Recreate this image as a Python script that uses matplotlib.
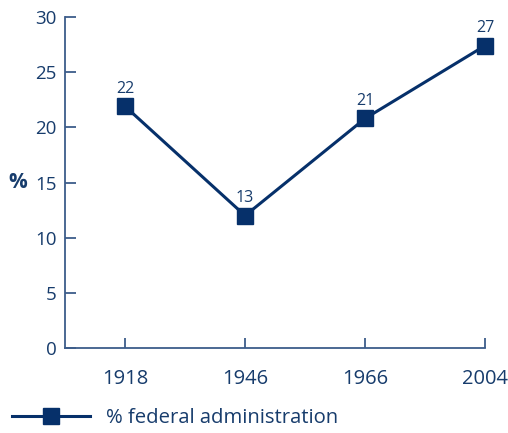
import matplotlib.pyplot as plt

# ---- data ----
years = ['1918', '1946', '1966', '2004']
share = [21.9, 12.0, 20.8, 27.4]
share_labels = ['22', '13', '21', '27']
series_name = '% federal administration'

NAVY = '#06306a'
AXIS = '#3d5d8a'
TEXT = '#173c6c'

plt.rcParams['font.family'] = ['Open Sans', 'DejaVu Sans']

fig = plt.figure(figsize=(5.08, 4.33), dpi=100)
ax = fig.add_axes([0.128, 0.196, 0.827, 0.765])

x = list(range(len(years)))
ax.plot(x, share, color=NAVY, lw=2.2, marker='s', ms=11.5,
        mfc=NAVY, mec=NAVY, label=series_name, zorder=3, clip_on=False)
for xi, v, lab in zip(x, share, share_labels):
    ax.annotate(lab, (xi, v), xytext=(0, 7), textcoords='offset points',
                ha='center', va='bottom', fontsize=11.5, color=TEXT)

ax.set_xlim(-0.5, 3)
ax.set_ylim(0, 30)
ax.set_xticks(x)
ax.set_xticklabels(years)
ax.set_yticks(range(0, 31, 5))

for s in ['top', 'right']:
    ax.spines[s].set_visible(False)
for s in ['left', 'bottom']:
    ax.spines[s].set_color(AXIS)
    ax.spines[s].set_linewidth(1.3)

ax.tick_params(axis='y', direction='in', length=8, width=1.3, color=AXIS,
               labelsize=13.5, labelcolor=TEXT, pad=6)
ax.tick_params(axis='x', direction='in', length=7, width=1.3, color=AXIS,
               labelsize=14.5, labelcolor=TEXT, pad=15)

ax.set_ylabel('%', rotation=0, fontsize=15, fontweight='bold', color=TEXT,
              va='center', ha='center')
ax.yaxis.set_label_coords(-0.112, 0.5)

fig.legend(loc='center left', bbox_to_anchor=(-0.012, 0.035), frameon=False,
           fontsize=14.6, handlelength=3.85, handletextpad=0.8, labelcolor=TEXT)

fig.savefig('out.png', dpi=100)
